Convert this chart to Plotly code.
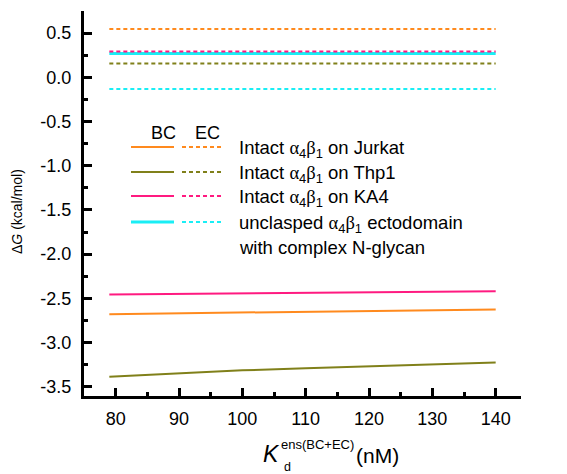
import plotly.graph_objects as go

# ---------------- data ----------------
kd = [79, 90, 100, 110, 120, 130, 140]

bc_jurkat = [-2.679, -2.668, -2.659, -2.650, -2.642, -2.634, -2.626]
bc_thp1 = [-3.387, -3.350, -3.315, -3.290, -3.266, -3.245, -3.225]
bc_ka4 = [-2.457, -2.449, -2.443, -2.437, -2.431, -2.425, -2.420]
bc_unclasped = [0.270, 0.270, 0.270, 0.270, 0.270, 0.270, 0.270]

ec_jurkat = [0.545, 0.545, 0.545, 0.545, 0.545, 0.545, 0.545]
ec_thp1 = [0.157, 0.157, 0.157, 0.157, 0.157, 0.157, 0.157]
ec_ka4 = [0.292, 0.292, 0.292, 0.292, 0.292, 0.292, 0.292]
ec_unclasped = [-0.132, -0.132, -0.132, -0.132, -0.132, -0.132, -0.132]

series_names = ["Jurkat", "Thp1", "KA4", "unclasped"]
colors = ["#FF8A1E", "#80801A", "#FF1A80", "#1AEEF5"]

y_tickvals = [0.5, 0.0, -0.5, -1.0, -1.5, -2.0, -2.5, -3.0, -3.5]
y_ticktext = ["0.5", "0.0", "-0.5", "-1.0", "-1.5", "-2.0", "-2.5", "-3.0", "-3.5"]
x_tickvals = [80, 90, 100, 110, 120, 130, 140]
x_ticktext = ["80", "90", "100", "110", "120", "130", "140"]

FONT = "Liberation Sans, Arial, sans-serif"
GREEK = "font-family:Liberation Serif"

fig = go.Figure()

bc_sets = [bc_jurkat, bc_thp1, bc_ka4, bc_unclasped]
ec_sets = [ec_jurkat, ec_thp1, ec_ka4, ec_unclasped]
bc_widths = [2, 2, 2, 3]

for name, col, ys, w in zip(series_names, colors, bc_sets, bc_widths):
    fig.add_trace(go.Scatter(x=kd, y=ys, mode="lines", name=name + " BC",
                             line=dict(color=col, width=w), showlegend=False))
for name, col, ys in zip(series_names, colors, ec_sets):
    fig.add_trace(go.Scatter(x=kd, y=ys, mode="lines", name=name + " EC",
                             line=dict(color=col, width=2, dash="4px,3px"),
                             showlegend=False))

# ---------------- layout helpers (pixel -> paper) ----------------
W, H = 567, 474
L, R, T, B = 76, 54, 3, 86
PW = W - L - R
PH = H - T - B


def px(x):
    return (x - L) / PW


def py(y):
    return (H - B - y) / PH


shapes = []
annotations = []

# legend header
annotations.append(dict(x=px(155), y=py(125), text="BC", showarrow=False,
                        xanchor="center", yanchor="middle",
                        font=dict(size=18, color="black", family=FONT)))
annotations.append(dict(x=px(199), y=py(125), text="EC", showarrow=False,
                        xanchor="center", yanchor="middle",
                        font=dict(size=18, color="black", family=FONT)))

a4b1 = ('<span style="%s">α</span><sub>4</sub>'
        '<span style="%s">β</span><sub>1</sub>') % (GREEK, GREEK)
legend_labels = [
    "Intact " + a4b1 + " on Jurkat",
    "Intact " + a4b1 + " on Thp1",
    "Intact " + a4b1 + " on KA4",
    "unclasped " + a4b1 + " ectodomain",
]
row_y = [139, 164, 188, 214]
for i, (col, lab, ry) in enumerate(zip(colors, legend_labels, row_y)):
    shapes.append(dict(type="line", xref="paper", yref="paper",
                       x0=px(123), x1=px(166), y0=py(ry), y1=py(ry),
                       line=dict(color=col, width=bc_widths[i])))
    shapes.append(dict(type="line", xref="paper", yref="paper",
                       x0=px(174), x1=px(214), y0=py(ry), y1=py(ry),
                       line=dict(color=col, width=2, dash="4px,3px")))
    annotations.append(dict(x=px(229), y=py(ry + 2), text=lab, showarrow=False,
                            xanchor="left", yanchor="middle",
                            font=dict(size=18.5, color="black", family=FONT)))
annotations.append(dict(x=px(229), y=py(239), text="with complex N-glycan",
                        showarrow=False, xanchor="left", yanchor="middle",
                        font=dict(size=18.5, color="black", family=FONT)))

# y-axis title
annotations.append(dict(x=px(9), y=py(204), text="Δ<i>G</i> (kcal/mol)",
                        textangle=-90, showarrow=False, xanchor="center",
                        yanchor="middle",
                        font=dict(size=14, color="black", family=FONT)))

# x-axis title
annotations.append(dict(x=px(253), y=py(446), text="<i>K</i>", showarrow=False,
                        xanchor="left", yanchor="middle",
                        font=dict(size=23, color="black", family=FONT)))
annotations.append(dict(x=px(271), y=py(436), text="ens(BC+EC)", showarrow=False,
                        xanchor="left", yanchor="middle",
                        font=dict(size=13, color="black", family=FONT)))
annotations.append(dict(x=px(274), y=py(459), text="d", showarrow=False,
                        xanchor="left", yanchor="middle",
                        font=dict(size=12.5, color="black", family=FONT)))
annotations.append(dict(x=px(346), y=py(447), text="(nM)", showarrow=False,
                        xanchor="left", yanchor="middle",
                        font=dict(size=21, color="black", family=FONT)))

for a in annotations:
    a["xref"] = "paper"
    a["yref"] = "paper"

fig.update_layout(
    width=W, height=H,
    margin=dict(l=L, r=R, t=T, b=B, pad=0),
    paper_bgcolor="white", plot_bgcolor="white",
    font=dict(family=FONT, color="black", size=16),
    showlegend=False,
    shapes=shapes,
    annotations=annotations,
    xaxis=dict(range=[75, 144], showgrid=False, zeroline=False,
               showline=True, linecolor="black", linewidth=3,
               ticks="inside", ticklen=8, tickwidth=2.5, tickcolor="black",
               tickvals=x_tickvals, ticktext=x_ticktext,
               tickfont=dict(size=18, family=FONT, color="black"),
               ticklabelstandoff=4,
               minor=dict(ticks="inside", ticklen=4, tickwidth=2.5,
                          tickcolor="black", dtick=5, tick0=75, showgrid=False)),
    yaxis=dict(range=[-3.605, 0.75], showgrid=False, zeroline=False,
               showline=True, linecolor="black", linewidth=3,
               ticks="inside", ticklen=8, tickwidth=2.5, tickcolor="black",
               tickvals=y_tickvals, ticktext=y_ticktext,
               tickfont=dict(size=18, family=FONT, color="black"),
               ticklabelstandoff=6,
               minor=dict(ticks="inside", ticklen=4, tickwidth=2.5,
                          tickcolor="black", dtick=0.25, tick0=0,
                          showgrid=False)),
)

fig.write_html("out.html")
